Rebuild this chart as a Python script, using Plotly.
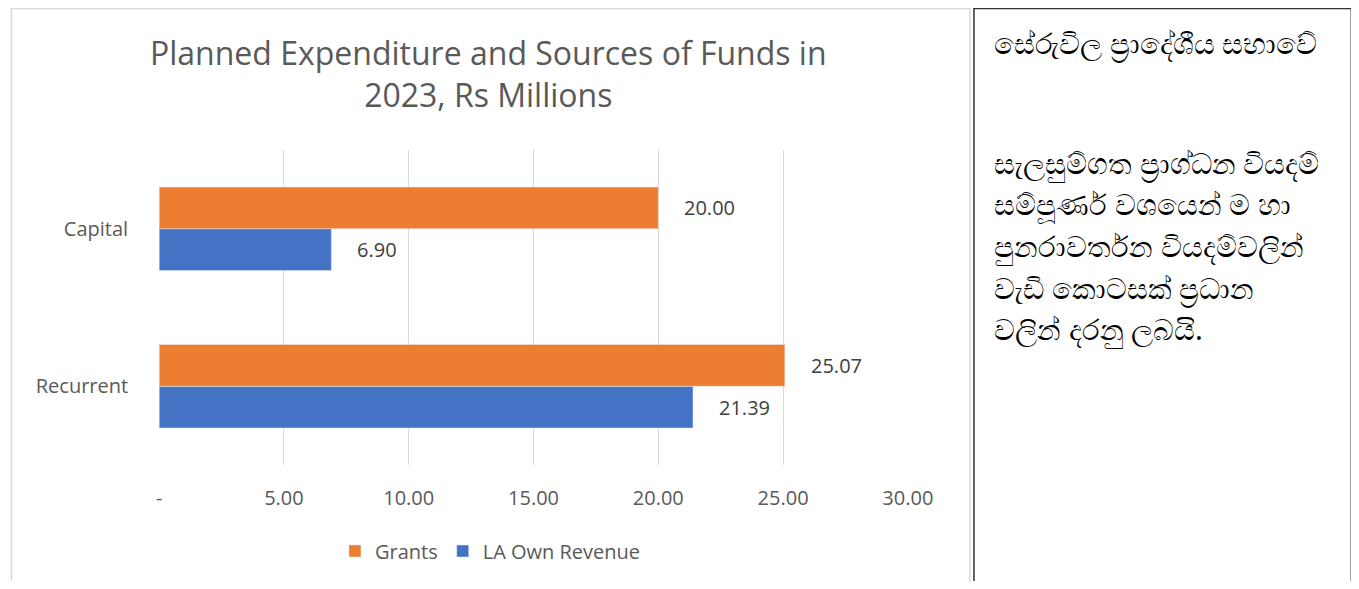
import plotly.graph_objects as go

# data
categories = ["Recurrent", "Capital"]
grants = [25.07, 20.00]
la_own_revenue = [21.39, 6.90]
x_ticks = [0, 5, 10, 15, 20, 25, 30]
x_tick_labels = ["-", "5.00", "10.00", "15.00", "20.00", "25.00", "30.00"]

side_title = "සේරුවිල ප්‍රාදේශීය සභාවේ"
side_lines = [
    "සැලසුම්ගත ප්‍රාග්ධන වියදම්",
    "සම්පූර්ණ වශයෙන් ම හා",
    "පුනරාවර්තන වියදම්වලින්",
    "වැඩි කොටසක් ප්‍රධාන",
    "වලින් දරනු ලබයි.",
]

# page offset/scale seen in the screenshot: x' = 11 + 0.978*x, y' = 8 + y
W, H = 1378, 573
SX, OX, OY = 0.978, 11, 8


def px(x):
    return (x - OX) / SX / W


def py(y):
    return 1 - (y - OY) / H


font_main = "Open Sans, Lato, sans-serif"
grey_txt = "#595959"

fig = go.Figure()

# LA Own Revenue first so it sits below Grants in each group
fig.add_trace(go.Bar(y=categories, x=la_own_revenue, name="LA Own Revenue",
                     orientation="h", marker_color="#4472C4"))
fig.add_trace(go.Bar(y=categories, x=grants, name="Grants",
                     orientation="h", marker_color="#ED7D31"))

# value labels
for vals, shift in [(grants, 21), (la_own_revenue, -21)]:
    for c, v in zip(categories, vals):
        fig.add_annotation(x=v, y=c, text=f"{v:.2f}", showarrow=False,
                           xanchor="left", xshift=24, yshift=shift,
                           font=dict(size=20, color="#404040", family=font_main))

fig.update_layout(
    width=W, height=H,
    margin=dict(l=0, r=0, t=0, b=0),
    paper_bgcolor="white", plot_bgcolor="white",
    barmode="group", bargap=0.47, bargroupgap=0,
    font=dict(family=font_main, color=grey_txt),
    showlegend=True,
    legend=dict(orientation="h", traceorder="reversed",
                x=px(490), xanchor="center", y=py(551), yanchor="middle",
                font=dict(size=20, color=grey_txt), itemwidth=30),
    xaxis=dict(domain=[px(159), px(907)], range=[0, 30],
               tickvals=x_ticks, ticktext=x_tick_labels,
               showgrid=True, gridcolor="#d9d9d9", gridwidth=1,
               zeroline=False, showline=False, ticks="",
               tickfont=dict(size=20, color=grey_txt), ticklabelstandoff=19),
    yaxis=dict(domain=[py(465), py(150)],
               categoryorder="array", categoryarray=categories,
               showgrid=False, zeroline=False, showline=False, ticks="",
               tickfont=dict(size=20, color=grey_txt), ticklabelstandoff=30),
)

# title
fig.add_annotation(xref="paper", yref="paper", x=px(488), y=py(73),
                   text="Planned Expenditure and Sources of Funds in<br>2023, Rs Millions",
                   showarrow=False, xanchor="center", yanchor="middle",
                   font=dict(size=32, color=grey_txt, family=font_main))

# chart frame and side panel
fig.add_shape(type="rect", xref="paper", yref="paper",
              x0=0.5 / W, x1=px(969), y0=-0.05, y1=1 - 0.5 / H,
              line=dict(color="#d9d9d9", width=1.5), layer="below")
fig.add_shape(type="rect", xref="paper", yref="paper",
              x0=px(973), x1=px(1350), y0=-0.05, y1=1 - 0.5 / H,
              line=dict(color="#333333", width=1.5))

side_font = dict(size=29, color="black", family="Noto Sans, sans-serif")
fig.add_annotation(xref="paper", yref="paper", x=px(991), y=py(43),
                   text=side_title, showarrow=False, xanchor="left", yanchor="middle",
                   font=side_font)
for i, line in enumerate(side_lines):
    fig.add_annotation(xref="paper", yref="paper", x=px(991), y=py(163 + 41.5 * i),
                       text=line, showarrow=False, xanchor="left", yanchor="middle",
                       font=side_font)

fig.write_html("out.html")
